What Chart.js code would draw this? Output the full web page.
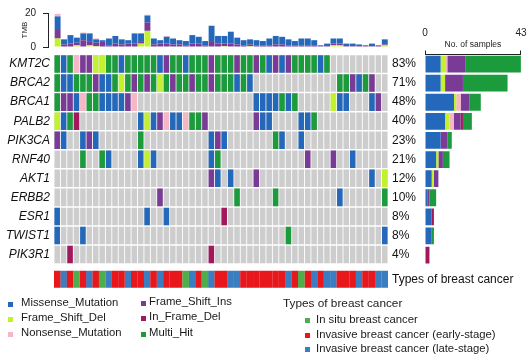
<!DOCTYPE html>
<html><head><meta charset="utf-8">
<script src="https://cdn.jsdelivr.net/npm/chart.js@4.4.0/dist/chart.umd.min.js"></script>
<style>
html,body{margin:0;padding:0;background:#fff;}
#wrap{position:relative;width:531px;height:362px;overflow:hidden;font-family:"Liberation Sans",Arial,sans-serif;color:#1a1a1a;}
canvas{position:absolute;}
.t{position:absolute;white-space:nowrap;font-size:11.3px;line-height:14px;}
.m{position:absolute;width:5px;height:5px;}
</style></head>
<body><div id="wrap">
<canvas id="tmb" width="395" height="60" style="left:0;top:0"></canvas>
<canvas id="mat" width="531" height="300" style="left:0;top:0"></canvas>
<canvas id="cnt" width="138" height="300" style="left:400px;top:0"></canvas>
<div id="legend"></div>
</div>
<script>
// ---------------- DATA ----------------
const genes   = ['KMT2C','BRCA2','BRCA1','PALB2','PIK3CA','RNF40','AKT1','ERBB2','ESR1','TWIST1','PIK3R1'];
const genePct = ['83%','71%','48%','40%','23%','21%','12%','10%','8%','8%','4%'];
// one character per sample: M Missense, D Frame_Shift_Del, N Nonsense, I Frame_Shift_Ins, F In_Frame_Del, H Multi_Hit, . none
const rowKMT2C  = "HMHNIIDDHHMHH" + "HHHMIHHMHHHIHH" + "HIHHIHMIMIHHHHMH" + ".".repeat(9);
const rowBRCA2  = "HMMHHHIMMHDHIHIHDHIHHIHHIHHHMHM" + ".".repeat(13) + "HHIMHI" + "..";
const rowBRCA1  = "HIIMNHHMMMMIN" + ".".repeat(18) + "MMMMHMH" + ".".repeat(5) + "DMM" + "..." + "MI" + ".";
const rowPALB2  = "DMHF" + ".".repeat(9) + "MDMINMMNHHI" + ".".repeat(7) + "IMM" + "...." + "MMH" + ".".repeat(11);
const rowPIK3CA = "IM..MIM" + ".".repeat(6) + "H" + ".".repeat(10) + "MIM" + ".".repeat(7) + "HM" + ".." + "M" + ".".repeat(13);
const rowRNF40  = "....H..HM....MDM" + ".".repeat(8) + "MH" + ".".repeat(13) + "I...I..M" + ".....";
const rowAKT1   = ".".repeat(24) + "IM.M...I" + ".".repeat(17) + "M.D";
const rowERBB2  = ".".repeat(16) + "I" + ".".repeat(11) + "H" + ".....H" + ".".repeat(9) + "M" + ".".repeat(6) + "H";
const rowESR1   = "M" + ".".repeat(13) + "M..M" + ".".repeat(8) + "F" + ".".repeat(25);
const rowTWIST1 = "M...M" + ".".repeat(31) + "H" + ".".repeat(14) + "M";
const rowPIK3R1 = "..F" + ".".repeat(21) + "F" + ".".repeat(27);
const geneRows = [rowKMT2C,rowBRCA2,rowBRCA1,rowPALB2,rowPIK3CA,rowRNF40,rowAKT1,rowERBB2,rowESR1,rowTWIST1,rowPIK3R1];
// cancer type per sample: G in situ, R invasive early-stage, B invasive late-stage
const cancerType = "RBRGRBRGBR" + "RBRRBRBRRR" + "GBRGBRRBBR" + "RRRRRRBRGR" + "BRBBRRRBRR" + "BB";
const sampleIds = ['S01','S02','S03','S04','S05','S06','S07','S08','S09','S10','S11','S12','S13','S14','S15','S16','S17','S18','S19','S20','S21','S22','S23','S24','S25','S26','S27','S28','S29','S30','S31','S32','S33','S34','S35','S36','S37','S38','S39','S40','S41','S42','S43','S44','S45','S46','S47','S48','S49','S50','S51','S52'];
// TMB per sample, by variant class
const tmbFrameShiftDel = [5,0,0,1,0,1,0.5,0,0,0, 0,0,0,2,9.5,0,0,0,0,0, 0,0,0,0,0,0,0.5,0,0,0, 0.5,0,0,0,0,0,0,0,0,0, 0,0,0,1,1,0,0,0,0,0, 0,1];
const tmbFrameShiftIns = [5,1.5,2,1.5,4,2,2,3,1,2, 1.5,2,2,1,5,1.5,2,2,1.5,1.5, 1,2,2,1,3.5,2,1.5,2,1.5,1, 1,1,1,1,1.5,1.5,1,1,1,1, 1,0.5,0.5,1,1,0.5,0.5,0.5,0.5,0.5, 0.5,0.5];
const tmbMissense      = [8,3,5,3,4,5,2,1,4,4.5, 3,2,6,5,4,3.5,2,4,3.5,2.5, 2.5,5,4,2.5,9,4.5,4.5,7,4,3, 3,3,2.5,4,5,4.5,3.5,2.5,4,4, 3,0.5,1.5,3,3,1.5,1.5,1,0.5,1.5, 0.5,3];
const tmbNonsense      = [1.5,0,0,0,0.5,0,0.5,0,0,0, 0,0,0,0,0.5,0,0,0.5,0,0, 0,0,0,0,0,0,0,0,0,0, 0,0,0,0,0,0,0,0,0,0, 0,0,0,0,0,0,0,0,0,0, 0,0];
const tmbTicks = [0, 20];
const countTicks = [0, 43];

// ---------------- STYLE ----------------
const FONT = "'Liberation Sans', Arial, sans-serif";
const vcCodes  = ['M','D','N','I','F','H'];
const vcNames  = {M:'Missense_Mutation',D:'Frame_Shift_Del',N:'Nonsense_Mutation',I:'Frame_Shift_Ins',F:'In_Frame_Del',H:'Multi_Hit'};
const vcColors = {M:'#2368BA',D:'#C2F22C',N:'#F5B6C5',I:'#7A3B96',F:'#A3185C',H:'#1C9B3D'};
const ctCodes  = ['G','R','B'];
const ctNames  = {G:'In situ breast cancer',R:'Invasive breast cancer (early-stage)',B:'Invasive breast cancer (late-stage)'};
const ctColors = {G:'#4DAE4B',R:'#E8171C',B:'#3A7DC1'};
const GRAY = '#CDCDCD';
const ANNO = [11.35, 12.25];
const tmbLabels = [''].concat(sampleIds);

// ---------------- TMB (top) ----------------
function pts(arr){ return arr.map((v,k)=>({x:sampleIds[k],y:v})); }
new Chart(document.getElementById('tmb'), {
  type:'bar',
  data:{labels:tmbLabels,datasets:[
    {label:'Frame_Shift_Del', data:pts(tmbFrameShiftDel), backgroundColor:vcColors.D},
    {label:'Frame_Shift_Ins', data:pts(tmbFrameShiftIns), backgroundColor:vcColors.I},
    {label:'Missense_Mutation', data:pts(tmbMissense), backgroundColor:vcColors.M},
    {label:'Nonsense_Mutation', data:pts(tmbNonsense), backgroundColor:vcColors.N}
  ]},
  options:{
    responsive:false, animation:false,
    layout:{padding:{top:9,bottom:5,left:0,right:7}},
    datasets:{bar:{categoryPercentage:1,barPercentage:0.92,borderWidth:0}},
    plugins:{legend:{display:false},tooltip:{enabled:false}},
    scales:{
      x:{type:'category',display:false,stacked:true},
      y:{type:'linear',min:0,max:20,stacked:true,position:'left',
        afterBuildTicks:s=>{s.ticks=tmbTicks.map(v=>({value:v}));},
        grid:{display:true,drawOnChartArea:false,drawTicks:true,tickLength:5,color:'#222',lineWidth:1},
        border:{display:true,color:'#222',width:1},
        ticks:{padding:7,color:'#222',font:{family:FONT,size:10}},
        title:{display:true,text:'TMB',color:'#222',font:{family:FONT,size:8},padding:{top:20,bottom:0}},
        afterFit:s=>{s.width=48;}
      }
    }
  }
});

// ---------------- Oncoplot matrix + annotation ----------------
const matDatasets = [];
vcCodes.forEach(c=>{
  const data=[];
  geneRows.forEach((row,i)=>{ for(let k=0;k<sampleIds.length;k++){ if(row[k]===c) data.push({x:sampleIds[k],y:[i+0.04,i+0.96]}); } });
  matDatasets.push({label:vcNames[c],data,backgroundColor:vcColors[c],order:0,barPercentage:0.86});
});
ctCodes.forEach(c=>{
  const data=[];
  for(let k=0;k<sampleIds.length;k++){ if(cancerType[k]===c) data.push({x:sampleIds[k],y:ANNO}); }
  matDatasets.push({label:ctNames[c],data,backgroundColor:ctColors[c],order:0,barPercentage:1.02});
});
const bg=[];
geneRows.forEach((row,i)=>{ for(let k=0;k<sampleIds.length;k++) bg.push({x:sampleIds[k],y:[i+0.04,i+0.96]}); });
matDatasets.push({label:'none',data:bg,backgroundColor:GRAY,order:10,barPercentage:0.86});

new Chart(document.getElementById('mat'), {
  type:'bar',
  data:{labels:sampleIds,datasets:matDatasets},
  options:{
    responsive:false, animation:false,
    layout:{padding:{top:54.5,bottom:10.6,left:0,right:0}},
    datasets:{bar:{grouped:false,categoryPercentage:1,borderWidth:0}},
    plugins:{legend:{display:false},tooltip:{enabled:false}},
    scales:{
      x:{type:'category',display:false},
      y:{type:'linear',min:0,max:12.3,reverse:true,position:'left',
        grid:{display:false,drawTicks:false,tickLength:0},border:{display:false},
        afterBuildTicks:s=>{s.ticks=genes.map((g,i)=>({value:i+0.5}));},
        ticks:{autoSkip:false,padding:4,color:'#111',font:{family:FONT,size:12,style:'italic'},callback:(v,i)=>genes[i]},
        afterFit:s=>{s.width=54;}
      },
      y2:{type:'linear',min:0,max:12.3,reverse:true,position:'right',
        grid:{display:false,drawTicks:false,tickLength:0},border:{display:false},
        afterBuildTicks:s=>{s.ticks=genes.map((g,i)=>({value:i+0.5})).concat([{value:(ANNO[0]+ANNO[1])/2}]);},
        ticks:{autoSkip:false,padding:4,color:'#111',font:{family:FONT,size:12},callback:(v,i)=> i<genes.length?genePct[i]:'Types of breast cancer'},
        afterFit:s=>{s.width=143;}
      }
    }
  }
});

// ---------------- Right bar: No. of samples ----------------
const cntDatasets = vcCodes.map(c=>({
  label:vcNames[c],
  data:geneRows.map(row=>row.split('').filter(ch=>ch===c).length),
  backgroundColor:vcColors[c]
}));
new Chart(document.getElementById('cnt'), {
  type:'bar',
  data:{labels:genes,datasets:cntDatasets},
  options:{
    indexAxis:'y', responsive:false, animation:false,
    layout:{padding:{top:0,bottom:35.4,left:25,right:0}},
    datasets:{bar:{categoryPercentage:1,barPercentage:0.88,borderWidth:0}},
    plugins:{legend:{display:false},tooltip:{enabled:false}},
    scales:{
      y:{type:'category',display:false,stacked:true,offset:true},
      x:{type:'linear',position:'top',min:0,max:43,stacked:true,
        afterBuildTicks:s=>{s.ticks=countTicks.map(v=>({value:v}));},
        grid:{display:true,drawOnChartArea:false,drawTicks:true,tickLength:4,color:'#222'},
        border:{display:true,color:'#222',width:1},
        ticks:{padding:11.5,maxRotation:0,color:'#222',font:{family:FONT,size:10}},
        title:{display:true,text:'No. of samples',color:'#222',font:{family:FONT,size:8.5},padding:{top:40,bottom:0}},
        afterFit:s=>{s.height=54.5;}
      }
    }
  }
});

// ---------------- Legends ----------------
const L = document.getElementById('legend');
function add(html){ L.insertAdjacentHTML('beforeend', html); }
const leftItems = [['M',8,21,301.5],['D',8,21,316.7],['N',8,21,331.7],['I',141,149,300.5],['F',141,149,316],['H',141,149,331.5]];
leftItems.forEach(([c,mx,tx,cy])=>{
  add(`<div class="m" style="left:${mx}px;top:${cy}px;background:${vcColors[c]}"></div>`);
  add(`<div class="t" style="left:${tx}px;top:${cy-7}px">${vcNames[c]}</div>`);
});
add(`<div class="t" style="left:283px;top:295.5px;font-size:11.8px">Types of breast cancer</div>`);
[['G',319.3],['R',334],['B',348.3]].forEach(([c,cy])=>{
  add(`<div class="m" style="left:305px;top:${cy-1.5}px;background:${ctColors[c]}"></div>`);
  add(`<div class="t" style="left:316px;top:${cy-7}px">${ctNames[c]}</div>`);
});
</script>
</body></html>
